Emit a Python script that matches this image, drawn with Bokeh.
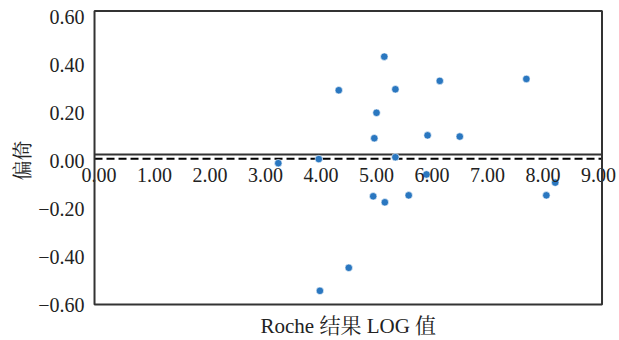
import math
from bokeh.plotting import figure
from bokeh.models import Range1d, Label, BoxAnnotation
from bokeh.embed import file_html
from bokeh.resources import INLINE

# Bland-Altman style data: Roche LOG value vs. bias
roche_log = [3.23, 3.96, 4.32, 5.14, 5.34, 5.00, 4.96, 5.92, 6.14, 6.50,
             7.70, 5.34, 4.94, 5.15, 5.58, 5.90, 8.06, 8.22, 4.50, 3.98]
bias = [-0.011, 0.006, 0.293, 0.433, 0.297, 0.199, 0.093, 0.105, 0.332, 0.100,
        0.340, 0.014, -0.149, -0.174, -0.145, -0.058, -0.145, -0.092, -0.447, -0.543]

x_ticks = [0, 1, 2, 3, 4, 5, 6, 7, 8, 9]
y_ticks = [-0.6, -0.4, -0.2, 0.0, 0.2, 0.4, 0.6]

# plot-area limits (boxed region) in data units
x_lo, x_hi = -0.081, 9.063
y_lo, y_hi = -0.6, 0.623

axis_y = 0.025      # horizontal axis crossing
mean_bias = 0.007   # dashed reference line

SERIF = "'Liberation Serif', 'Times New Roman', 'Noto Serif CJK SC', 'Noto Sans CJK SC', serif"
TEXT = "#222222"
EDGE = "#333333"

# the canvas-wide frame leaves room around the box for labels that overhang it
p = figure(width=619, height=340, output_backend="svg", toolbar_location=None,
           x_range=Range1d(-1.775, 9.378), y_range=Range1d(-0.75, 0.667),
           x_axis_type=None, y_axis_type=None,
           min_border=0, min_border_left=0, min_border_right=0,
           min_border_top=0, min_border_bottom=0)
p.outline_line_color = None
p.background_fill_color = "white"
p.border_fill_color = "white"
p.xgrid.visible = False
p.ygrid.visible = False

# plot box
p.add_layout(BoxAnnotation(left=x_lo, right=x_hi, bottom=y_lo, top=y_hi,
                           fill_color=None, fill_alpha=0, line_color=EDGE,
                           line_alpha=1.0, line_width=2, level="overlay"))

def fmt(v):
    v = 0.0 if abs(v) < 1e-9 else v
    return ("\u2212" if v < 0 else "") + f"{abs(v):.2f}"

# y tick labels
for t in y_ticks:
    p.add_layout(Label(x=x_lo, y=t, text=fmt(t), text_align="right",
                       text_baseline="middle", x_offset=-10, text_font=SERIF,
                       text_font_size="20px", text_color=TEXT))

# horizontal axis line near zero and its tick labels
p.segment(x0=[x_lo], y0=[axis_y], x1=[x_hi], y1=[axis_y], line_color=EDGE,
          line_width=2)
for t in x_ticks:
    p.add_layout(Label(x=t, y=axis_y, text=fmt(t), text_align="center",
                       text_baseline="top", y_offset=-13, text_font=SERIF,
                       text_font_size="20px", text_color=TEXT))

# dashed reference line
p.segment(x0=[x_lo], y0=[mean_bias], x1=[x_hi], y1=[mean_bias],
          line_color="black", line_width=2, line_dash="8 4")

# axis titles
p.add_layout(Label(x=(x_lo + x_hi) / 2, y=y_lo, y_offset=-21,
                   text="Roche 结果 LOG 值", text_align="center",
                   text_baseline="middle", text_font=SERIF,
                   text_font_size="21px", text_color=TEXT))
p.add_layout(Label(x=22, x_units="screen", y=0.0, text="偏倚",
                   angle=math.pi / 2, text_align="center",
                   text_baseline="middle", text_font=SERIF,
                   text_font_size="20px", text_color=TEXT))

p.scatter(roche_log, bias, size=7.5, fill_color="#2a77c0", line_color="white",
          line_width=0.6)

open("out.html", "w").write(file_html(p, INLINE))
